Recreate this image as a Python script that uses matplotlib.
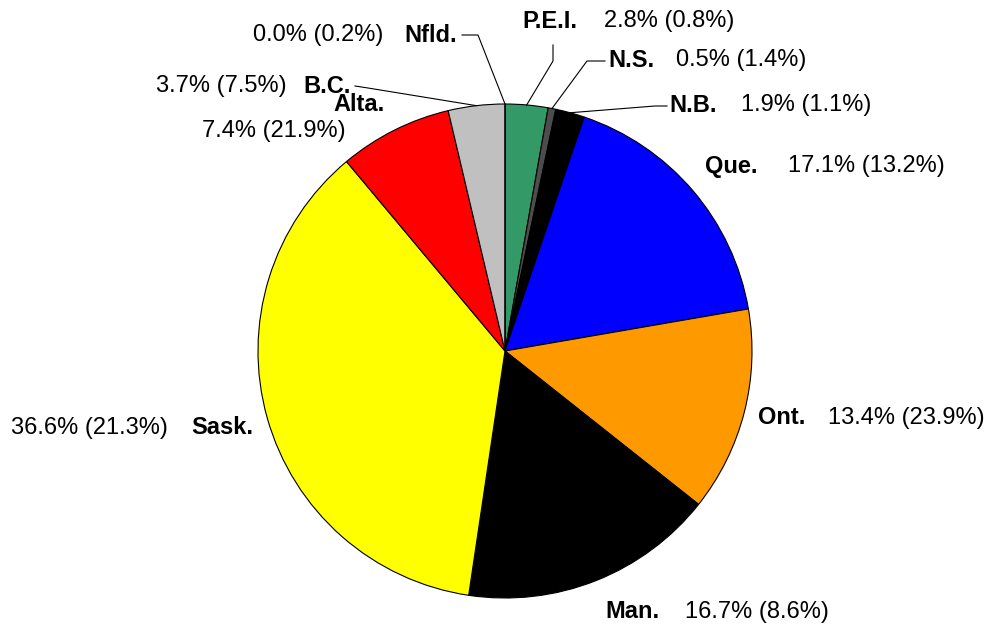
import numpy as np
import matplotlib
matplotlib.use("Agg")
import matplotlib.pyplot as plt

# ---- data ----
provinces = ["P.E.I.", "N.S.", "N.B.", "Que.", "Ont.", "Man.", "Sask.", "Alta.", "B.C.", "Nfld."]
shares = [2.8, 0.5, 1.9, 17.1, 13.4, 16.7, 36.6, 7.4, 3.7, 0.0]
shares_prior = [0.8, 1.4, 1.1, 13.2, 23.9, 8.6, 21.3, 21.9, 7.5, 0.2]
colors = ["#339966", "#4D4D4D", "#000000", "#0000FF", "#FF9900",
          "#000000", "#FFFF00", "#FF0000", "#C0C0C0", "#C0C0C0"]

W, H = 987, 627
fig = plt.figure(figsize=(W / 100, H / 100), dpi=100)
ax = fig.add_axes([0, 0, 1, 1])

cx, cy, R = 505, H - 351, 247
wedges, _ = ax.pie(shares, colors=colors, startangle=90, counterclock=False,
                   center=(cx, cy), radius=R,
                   wedgeprops=dict(edgecolor="black", linewidth=0.8))
ax.set_xlim(0, W)
ax.set_ylim(0, H)
ax.set_aspect("equal")
ax.axis("off")

def Y(y):
    return H - y

# label layout (pixel positions: name x, value x, y centre) and leader elbows
layout = {
    "P.E.I.": (522, 604, 21, [(553, 45), (553, 61)]),
    "N.S.":   (608, 676, 60, [(605, 61), (587, 61)]),
    "N.B.":   (669, 741, 105, [(667, 106), (655, 106)]),
    "Que.":   (705, 788, 166, None),
    "Ont.":   (758, 828, 418, None),
    "Man.":   (605, 685, 612, None),
    "Sask.":  (191, 11, 428, None),
    "Alta.":  (333, 202, 104, None),
    "B.C.":   (303, 156, 86, [(355, 86), (368, 88)]),
    "Nfld.":  (404, 253, 35, [(462, 35), (478, 35)]),
}
# value text for Sask., Alta., B.C., Nfld. placed on its own line/left side
fs = 17
font = ["Liberation Sans", "DejaVu Sans"]
for name, v, p, w in zip(provinces, shares, shares_prior, wedges):
    nx, vx, yy, leader = layout[name]
    ax.text(nx, Y(yy), name, ha="left", va="center", fontsize=fs,
            fontweight="bold", family=font, color="black")
    ax.text(vx, Y(yy) if name != "Alta." else Y(131), f"{v:.1f}% ({p:.1f}%)",
            ha="left", va="center", fontsize=fs, family=font, color="black")
    if leader is not None:
        mid = np.deg2rad((w.theta1 + w.theta2) / 2)
        ex, ey = cx + R * np.cos(mid), cy + R * np.sin(mid)
        xs = [pt[0] for pt in leader] + [ex]
        ys = [Y(pt[1]) for pt in leader] + [ey]
        ax.plot(xs, ys, color="black", linewidth=0.8)

fig.savefig("out.png", dpi=100, facecolor="white")
